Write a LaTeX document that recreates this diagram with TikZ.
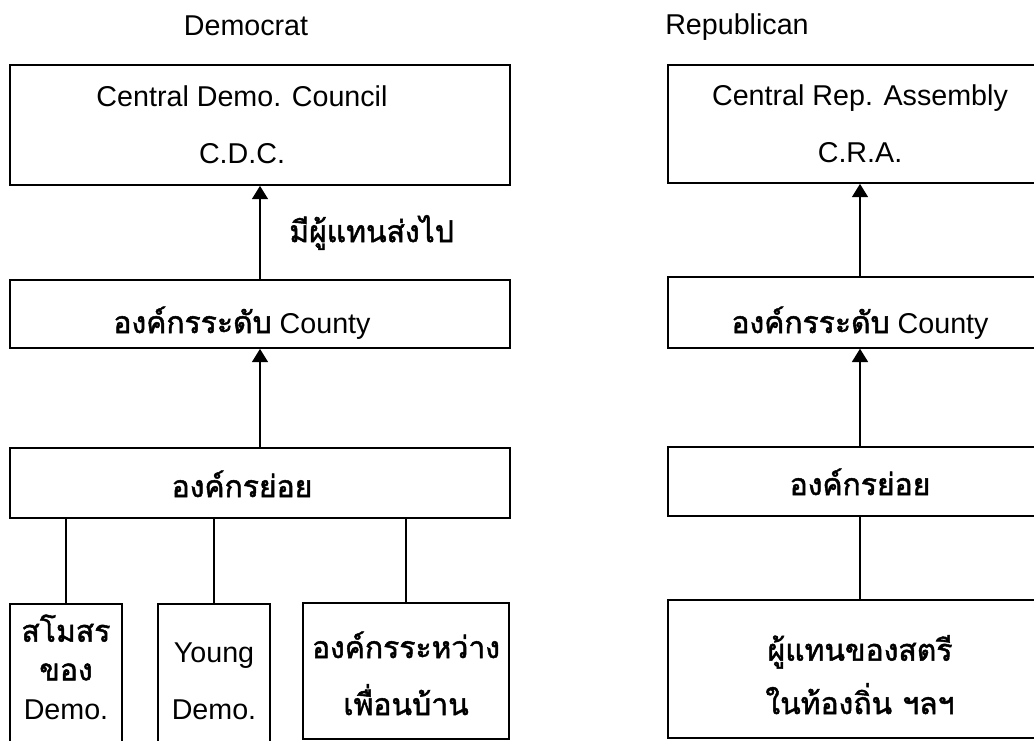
\documentclass[tikz,border=0pt]{standalone}
\usepackage{fontspec}
\setmainfont{Liberation Sans}
\newfontfamily\thai[Script=Thai,Scale=1.05,FakeBold=1.6]{Loma}
\usetikzlibrary{arrows.meta}
\def\thaitxt#1{{\thai #1}}
\def\lft{\hspace*{-27pt}}

\begin{document}
\begin{tikzpicture}[x=0.75pt,y=-0.75pt,
  font=\fontsize{21.5}{42.75}\selectfont,
  box/.style={draw,line width=1.3pt,align=center,inner sep=0pt},
  low/.style={text height=#1,text depth=0pt},
  up/.style={line width=1.3pt,-{Triangle[width=12pt,length=10pt]}}]
\useasboundingbox (0,0) rectangle (1034,740);
\clip (0,0) rectangle (1034,740);
\node[anchor=base] (dem) at (246,35) {Democrat};
\node[box,minimum width=375pt,minimum height=90pt] (cdc) at (260,125) {\lft Central Demo. Council\\\lft C.D.C.};
\node[box,low=28.5pt,minimum width=375pt,minimum height=51pt] (cty) at (260,314) {\lft\thaitxt{องค์กรระดับ} County};
\node[box,low=21pt,minimum width=375pt,minimum height=52.5pt] (sub) at (260,483) {\lft\thaitxt{องค์กรย่อย}};
\node[box,low=66pt,minimum width=84pt,minimum height=107pt,font=\fontsize{21.5}{29}\selectfont] (club) at (66,675) {\thaitxt{สโมสร}\\\thaitxt{ของ}\\Demo.};
\node[box,low=66pt,minimum width=84pt,minimum height=107pt] (young) at (214,675) {Young\\Demo.};
\node[box,low=66pt,minimum width=155pt,minimum height=102pt] (nbr) at (406,671) {\thaitxt{องค์กรระหว่าง}\\\thaitxt{เพื่อนบ้าน}};
\draw[up] (cty) -- node[midway,anchor=west,xshift=18pt] (send) {\thaitxt{มีผู้แทนส่งไป}} (cdc);
\draw[up] (sub) -- (cty);
\foreach \n in {club,young,nbr}
  \draw[line width=1.3pt] (\n.north) -- (\n.north |- sub.south);

\node[anchor=base] (rep) at (737,34) {Republican};
\node[box,minimum width=288pt,minimum height=88.5pt] (cra) at (860,124) {Central Rep. Assembly\\C.R.A.};
\node[box,low=30.75pt,minimum width=288pt,minimum height=53pt] (cty2) at (860,312.5) {\thaitxt{องค์กรระดับ} County};
\node[box,low=20.25pt,minimum width=288pt,minimum height=52pt] (sub2) at (860,481.5) {\thaitxt{องค์กรย่อย}};
\node[box,low=67.5pt,minimum width=288pt,minimum height=103.5pt,font=\fontsize{21.5}{40}\selectfont] (wom) at (860,669) {\thaitxt{ผู้แทนของสตรี}\\\thaitxt{ในท้องถิ่น ฯลฯ}};
\draw[up] (cty2) -- (cra);
\draw[up] (sub2) -- (cty2);
\draw[line width=1.3pt] (wom) -- (sub2);
\end{tikzpicture}
\end{document}
